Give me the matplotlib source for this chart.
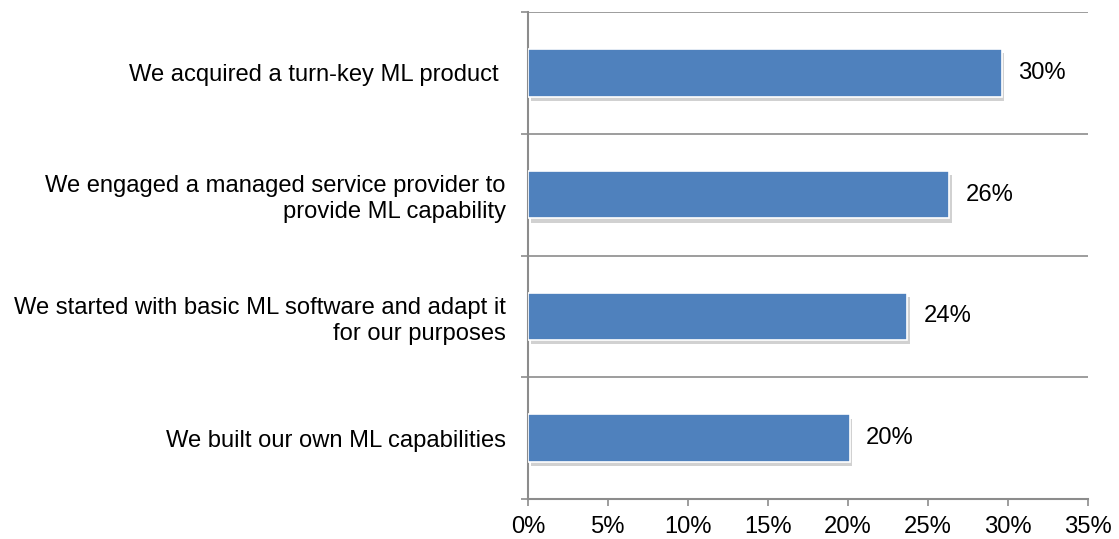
import matplotlib.pyplot as plt
import matplotlib.ticker as ticker
import matplotlib.patheffects as pe

categories = [
    'We acquired a turn-key ML product ',
    'We engaged a managed service provider to\nprovide ML capability',
    'We started with basic ML software and adapt it\nfor our purposes',
    'We built our own ML capabilities',
]
values = [29.6, 26.3, 23.7, 20.1]
value_labels = ['30%', '26%', '24%', '20%']
x_ticks = [0, 5, 10, 15, 20, 25, 30, 35]

BAR = '#4F81BD'
GRID = '#8C8C8C'
FS = 17.1

plt.rcParams['font.family'] = ['Liberation Sans', 'DejaVu Sans']

fig = plt.figure(figsize=(11.19, 5.39), dpi=100)
ax = fig.add_axes([0.4718, 0.0742, 0.5005, 0.9035])

pos = list(range(len(categories)))
bars = ax.barh(pos, values, height=0.39, color=BAR, edgecolor='white', linewidth=1.2, zorder=3)
for b in bars:
    b.set_path_effects([pe.SimplePatchShadow(offset=(2, -3), shadow_rgbFace='#9a9a9a', alpha=0.45),
                        pe.Normal()])

for p, v, lab in zip(pos, values, value_labels):
    ax.annotate(lab, xy=(v, p), xytext=(12, 0), textcoords='offset points',
                ha='left', va='center', fontsize=FS, color='black')

ax.set_xlim(0, 35)
ax.set_ylim(3.5, -0.5)
ax.set_xticks(x_ticks)
ax.xaxis.set_major_formatter(ticker.FuncFormatter(lambda x, _: f'{x:.0f}%'))
ax.set_yticks(pos)
ax.set_yticklabels(categories, fontsize=FS, linespacing=1.25)
ax.set_yticks([-0.5, 0.5, 1.5, 2.5, 3.5], minor=True)

ax.tick_params(axis='y', which='major', length=0, pad=16)
ax.tick_params(axis='y', which='minor', length=5, width=1.2, color=GRID, direction='out')
ax.tick_params(axis='x', which='major', length=5, width=1.2, color=GRID, direction='out',
               labelsize=FS, pad=7)
ax.grid(axis='y', which='minor', color=GRID, linewidth=1.2, zorder=0)

for side in ['top', 'right']:
    ax.spines[side].set_visible(False)
for side in ['left', 'bottom']:
    ax.spines[side].set_color(GRID)
    ax.spines[side].set_linewidth(1.5)

plt.savefig('out.png', dpi=100)
